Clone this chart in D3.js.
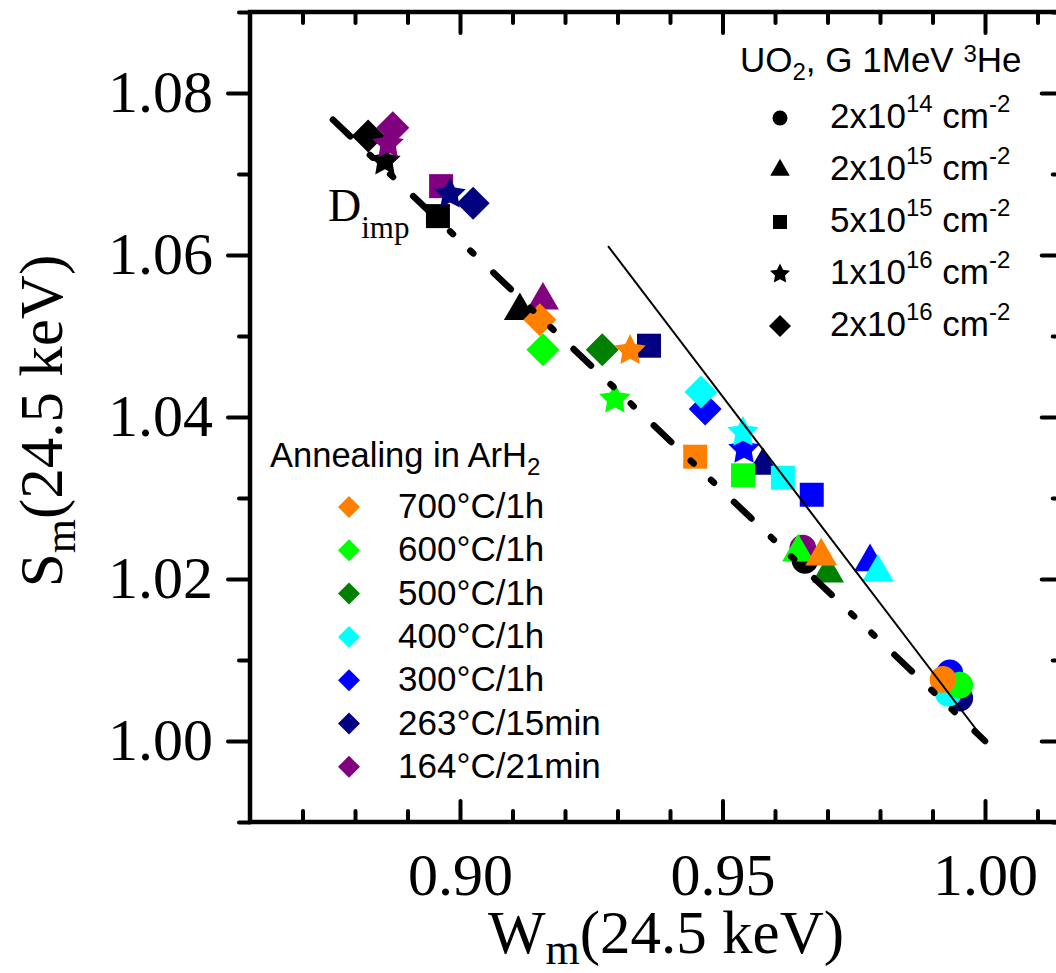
<!DOCTYPE html>
<html>
<head>
<meta charset="utf-8">
<script src="https://cdn.jsdelivr.net/npm/d3@7"></script>
<style>
  html, body { margin: 0; padding: 0; background: #fff; }
  svg { display: block; }
</style>
</head>
<body>
<svg id="chart" width="1056" height="973"></svg>
<script>
// ---------------- DATA ----------------
const conditions = ["as implanted", "164°C/21min", "263°C/15min", "300°C/1h", "400°C/1h", "500°C/1h", "600°C/1h", "700°C/1h"];
const doses = ["2x10^14", "2x10^15", "5x10^15", "1x10^16", "2x10^16"];

// W and S values per dose, aligned with `conditions` (null = not shown)
const W_2e14 = [0.9657, 0.9653, 0.9952, 0.9933, 0.9930, null, 0.9952, 0.9920];
const S_2e14 = [1.0223, 1.0238, 1.0053, 1.0084, 1.0059, null, 1.0069, 1.0076];

const W_2e15 = [0.9114, 0.9158, 0.9577, 0.9781, 0.9796, 0.9701, 0.9644, 0.9688];
const S_2e15 = [1.0531, 1.0544, 1.0340, 1.0221, 1.0208, 1.0207, 1.0233, 1.0228];

const W_5e15 = [0.8958, 0.8964, 0.9360, 0.9670, 0.9615, null, 0.9539, 0.9448];
const S_5e15 = [1.0648, 1.0685, 1.0488, 1.0304, 1.0325, null, 1.0328, 1.0351];

const W_1e16 = [0.8857, 0.8863, 0.8981, 0.9541, 0.9539, null, 0.9295, 0.9324];
const S_1e16 = [1.0716, 1.0737, 1.0675, 1.0360, 1.0381, null, 1.0422, 1.0482];

const W_2e16 = [0.8825, 0.8872, 0.9025, 0.9467, 0.9459, 0.9271, 0.9158, 0.9152];
const S_2e16 = [1.0747, 1.0757, 1.0664, 1.0410, 1.0431, 1.0483, 1.0483, 1.0520];

// Guide lines
const dashLineW = [0.8758, 1.0000];
const dashLineS = [1.0767, 1.0000];
const solidLineW = [0.9282, 1.0000];
const solidLineS = [1.0611, 1.0000];

// Axis ticks
const xMajorTicks = [0.90, 0.95, 1.00];
const xMinorTicks = [0.87, 0.88, 0.89, 0.91, 0.92, 0.93, 0.94, 0.96, 0.97, 0.98, 0.99, 1.01];
const yMajorTicks = [1.00, 1.02, 1.04, 1.06, 1.08];
const yMinorTicks = [0.99, 1.01, 1.03, 1.05, 1.07, 1.09];

// Legend entries
const annealLegend = ["700°C/1h", "600°C/1h", "500°C/1h", "400°C/1h", "300°C/1h", "263°C/15min", "164°C/21min"];
const doseLegendBase = ["2x10", "2x10", "5x10", "1x10", "2x10"];
const doseLegendExp = ["14", "15", "15", "16", "16"];

// ---------------- STYLE ----------------
const condColor = {
  "as implanted": "#000000",
  "164°C/21min": "#800080",
  "263°C/15min": "#000080",
  "300°C/1h": "#0000FF",
  "400°C/1h": "#00FFFF",
  "500°C/1h": "#008000",
  "600°C/1h": "#00FF00",
  "700°C/1h": "#FF8000"
};
const SERIF = "'Liberation Serif', 'Times New Roman', serif";
const SANS = "'Liberation Sans', Arial, sans-serif";

// chubby 5-point star symbol type (size = outer radius squared)
const fatStar = {
  draw(context, size) {
    const R = Math.sqrt(size), r = R * 0.5;
    for (let i = 0; i < 10; i++) {
      const a = -Math.PI / 2 + i * Math.PI / 5;
      const rr = i % 2 === 0 ? R : r;
      const px = rr * Math.cos(a), py = rr * Math.sin(a);
      if (i === 0) context.moveTo(px, py); else context.lineTo(px, py);
    }
    context.closePath();
  }
};

const shapeType = [d3.symbolCircle, d3.symbolTriangle, d3.symbolSquare, fatStar, d3.symbolSquare];
const shapeRot = [0, 0, 0, 0, 45];
const shapeSize = [560, 443, 576, 272, 544];
const legShapeSize = [177, 165, 196, 110, 242];

// ---------------- CHART ----------------
const svg = d3.select("#chart");
svg.append("rect").attr("width", 1056).attr("height", 973).attr("fill", "#fff");

const x = d3.scaleLinear().domain([0.86, 1.015]).range([250, 1063.75]);
const y = d3.scaleLinear().domain([0.99, 1.09]).range([822, 12]);

function styleAxis(g) {
  g.select(".domain").remove();
  g.selectAll(".tick line").attr("stroke", "#000").attr("stroke-width", 4).attr("stroke-linecap", "round");
}

// bottom
svg.append("g").attr("transform", "translate(0,822)")
  .call(d3.axisBottom(x).tickValues(xMinorTicks).tickSize(-11).tickSizeOuter(0).tickFormat(""))
  .call(styleAxis);
const gxb = svg.append("g").attr("transform", "translate(0,822)")
  .call(d3.axisBottom(x).tickValues(xMajorTicks).tickSize(-21).tickSizeOuter(0).tickFormat(d3.format(".2f")))
  .call(styleAxis);
gxb.selectAll("text").attr("y", 73).attr("dy", null)
  .attr("font-family", SERIF).attr("font-size", 60).attr("fill", "#000");

// top
svg.append("g").attr("transform", "translate(0,12)")
  .call(d3.axisTop(x).tickValues(xMinorTicks).tickSize(-11).tickSizeOuter(0).tickFormat(""))
  .call(styleAxis);
svg.append("g").attr("transform", "translate(0,12)")
  .call(d3.axisTop(x).tickValues(xMajorTicks).tickSize(-21).tickSizeOuter(0).tickFormat(""))
  .call(styleAxis);

// left
svg.append("g").attr("transform", "translate(250,0)")
  .call(d3.axisLeft(y).tickValues(yMinorTicks).tickSize(11).tickSizeOuter(0).tickFormat(""))
  .call(styleAxis);
const gyl = svg.append("g").attr("transform", "translate(250,0)")
  .call(d3.axisLeft(y).tickValues(yMajorTicks).tickSize(22).tickSizeOuter(0).tickFormat(d3.format(".2f")))
  .call(styleAxis);
gyl.selectAll("text").attr("x", -37).attr("dy", "0.31em")
  .attr("font-family", SERIF).attr("font-size", 60).attr("fill", "#000");

// right
const xr = x.range()[1];
svg.append("g").attr("transform", `translate(${xr},0)`)
  .call(d3.axisRight(y).tickValues(yMinorTicks).tickSize(-11).tickSizeOuter(0).tickFormat(""))
  .call(styleAxis);
svg.append("g").attr("transform", `translate(${xr},0)`)
  .call(d3.axisRight(y).tickValues(yMajorTicks).tickSize(-22).tickSizeOuter(0).tickFormat(""))
  .call(styleAxis);

// frame
svg.append("rect")
  .attr("x", x.range()[0]).attr("y", y.range()[1])
  .attr("width", x.range()[1] - x.range()[0]).attr("height", y.range()[0] - y.range()[1])
  .attr("fill", "none").attr("stroke", "#000").attr("stroke-width", 4.5);

// axis titles
const xt = svg.append("text").attr("x", 666).attr("y", 953).attr("text-anchor", "middle")
  .attr("font-family", SERIF).attr("font-size", 61).attr("fill", "#000");
xt.append("tspan").text("W");
xt.append("tspan").attr("font-size", 44).attr("dy", 11).text("m");
xt.append("tspan").attr("dy", -11).text("(24.5 keV)");

const yt = svg.append("text").attr("transform", "translate(62,421) rotate(-90)").attr("text-anchor", "middle")
  .attr("font-family", SERIF).attr("font-size", 61).attr("fill", "#000");
yt.append("tspan").text("S");
yt.append("tspan").attr("font-size", 44).attr("dy", 13).text("m");
yt.append("tspan").attr("dy", -13).text("(24.5 keV)");

// data points
const doseW = [W_2e14, W_2e15, W_5e15, W_1e16, W_2e16];
const doseS = [S_2e14, S_2e15, S_5e15, S_1e16, S_2e16];
const points = [];
conditions.forEach((c, ci) => {
  doses.forEach((d, di) => {
    const w = doseW[di][ci], s = doseS[di][ci];
    if (w != null && s != null) points.push({ c, di, w, s });
  });
});
svg.append("g").selectAll("path").data(points).join("path")
  .attr("d", p => d3.symbol().type(shapeType[p.di]).size(shapeSize[p.di])())
  .attr("transform", p => `translate(${x(p.w)},${y(p.s)}) rotate(${shapeRot[p.di]})`)
  .attr("fill", p => condColor[p.c]);

// guide lines
const line = d3.line().x(d => x(d[0])).y(d => y(d[1]));
svg.append("path").attr("d", line(d3.zip(dashLineW, dashLineS)))
  .attr("fill", "none").attr("stroke", "#000").attr("stroke-width", 6.5)
  .attr("stroke-linecap", "round").attr("stroke-dasharray", "24 27 4 24 4 27.8");
svg.append("path").attr("d", line(d3.zip(solidLineW, solidLineS)))
  .attr("fill", "none").attr("stroke", "#000").attr("stroke-width", 2);

// D_imp label
const dl = svg.append("text").attr("x", 328).attr("y", 221)
  .attr("font-family", SERIF).attr("font-size", 46).attr("fill", "#000");
dl.append("tspan").text("D");
dl.append("tspan").attr("font-size", 31).attr("dy", 17).text("imp");

// legend 1 (doses)
const l1 = svg.append("g");
const t1 = l1.append("text").attr("x", 740).attr("y", 72).attr("font-family", SANS).attr("font-size", 35).attr("fill", "#000");
t1.append("tspan").text("UO");
t1.append("tspan").attr("font-size", 24).attr("dy", 8).text("2");
t1.append("tspan").attr("dy", -8).text(", G 1MeV ");
t1.append("tspan").attr("font-size", 24).attr("dy", -10).text("3");
t1.append("tspan").attr("dy", 10).text("He");
doses.forEach((d, i) => {
  const by = 128 + i * 52;
  l1.append("path")
    .attr("d", d3.symbol().type(shapeType[i]).size(legShapeSize[i])())
    .attr("transform", `translate(780,${by - 10}) rotate(${shapeRot[i]})`)
    .attr("fill", "#000");
  const t = l1.append("text").attr("x", 830).attr("y", by).attr("font-family", SANS).attr("font-size", 35).attr("fill", "#000");
  t.append("tspan").text(doseLegendBase[i]);
  t.append("tspan").attr("font-size", 24).attr("dy", -16).text(doseLegendExp[i]);
  t.append("tspan").attr("dy", 16).text(" cm");
  t.append("tspan").attr("font-size", 24).attr("dy", -16).text("-2");
});

// legend 2 (annealing)
const l2 = svg.append("g");
const t2 = l2.append("text").attr("x", 270).attr("y", 467).attr("font-family", SANS).attr("font-size", 34.5).attr("fill", "#000");
t2.append("tspan").text("Annealing in ArH");
t2.append("tspan").attr("font-size", 24).attr("dy", 8).text("2");
annealLegend.forEach((c, i) => {
  const by = 518 + i * 43.3;
  l2.append("path")
    .attr("d", d3.symbol().type(d3.symbolSquare).size(242)())
    .attr("transform", `translate(349,${by - 11}) rotate(45)`)
    .attr("fill", condColor[c]);
  l2.append("text").attr("x", 398).attr("y", by).attr("font-family", SANS).attr("font-size", 35).attr("fill", "#000").text(c);
});
</script>
</body>
</html>
